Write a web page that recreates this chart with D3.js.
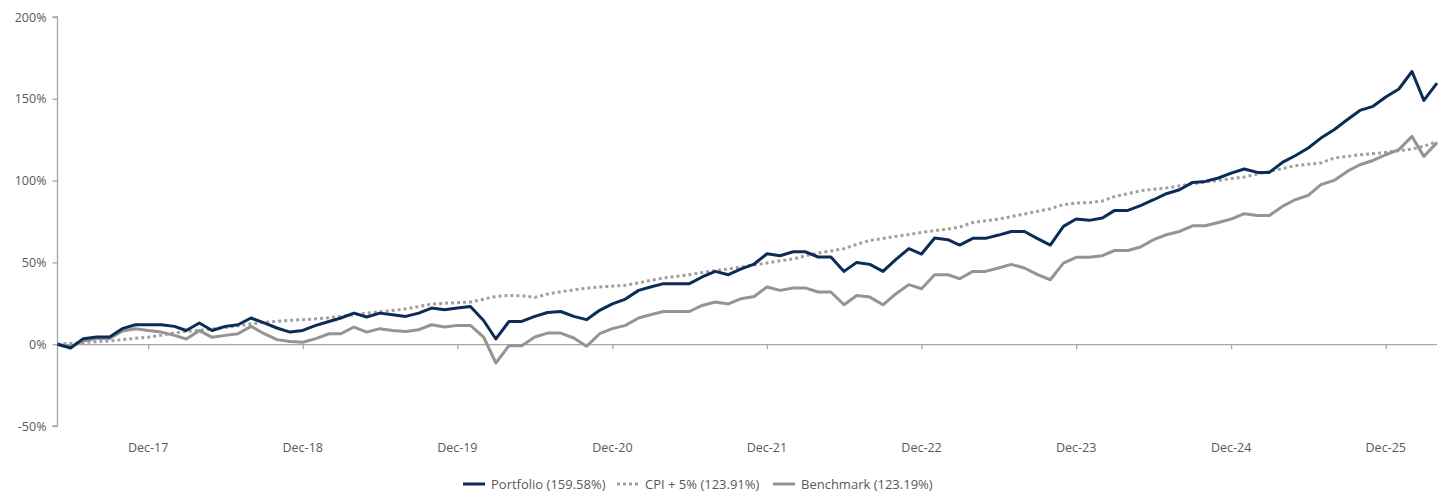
<!DOCTYPE html>
<html>
<head>
<meta charset="utf-8">
<script src="https://cdn.jsdelivr.net/npm/d3@7"></script>
<style>
  body { margin: 0; background: #fff; }
  svg text { font-family: "Open Sans", sans-serif; font-size: 12px; fill: #595959; }
</style>
</head>
<body>
<div id="chart"></div>
<script>
// monthly points, first one is May-17 (base = 0%)
const startMonth = new Date(2017, 4, 1);
const tickLabels = ["Dec-17", "Dec-18", "Dec-19", "Dec-20", "Dec-21", "Dec-22", "Dec-23", "Dec-24", "Dec-25"];
const yTicks = [-50, 0, 50, 100, 150, 200];

const portfolio = [
    0, -2.3, 3.4, 4.4, 4.4, 9.5, 11.9, 11.9, 11.9, 10.9,
    8.4, 13, 8.4, 10.9, 11.9, 16, 13, 9.9, 7.4, 8.4,
    11.5, 13.9, 16, 19, 16.6, 19, 18, 17, 19, 22.1,
    21.1, 22.1, 23.1, 14.5, 3.2, 13.9, 13.9, 17, 19.4, 20,
    17, 15, 20.7, 24.6, 27.6, 32.9, 35, 37, 37, 37,
    41.1, 44.5, 42.5, 46, 49, 55.3, 54.1, 56.5, 56.5, 53.3,
    53.3, 44.5, 50, 48.8, 44.5, 51.7, 58.4, 55.1, 64.9, 63.9,
    60.6, 64.7, 64.7, 66.7, 68.9, 68.9, 64.5, 60.6, 72, 76.5,
    75.7, 77.1, 81.8, 81.8, 84.7, 88.3, 92, 94.4, 98.9, 99.5,
    101.6, 104.6, 107.1, 105, 105, 111.1, 115.2, 119.9, 126, 131.1,
    137.2, 142.9, 145.4, 151.1, 156, 166.7, 149, 159.58
];

const cpi = [
    0, 0.5, 1, 1.5, 2, 2.8, 3.6, 4.3, 5.5, 7,
    7.8, 8.5, 9.3, 10.2, 11.2, 12.5, 13.3, 14, 14.6, 15,
    15.5, 16.2, 17, 18, 19, 19.8, 20.6, 21.6, 23, 24.5,
    25, 25.4, 25.8, 27.5, 29.2, 29.8, 29.6, 28.6, 30.7, 32,
    33.3, 34.2, 35, 35.5, 36, 37.5, 39, 40.5, 41.5, 42.5,
    43.8, 45, 46, 47.2, 48.5, 49.6, 51, 52.1, 54, 55.7,
    57, 58.4, 61, 63.4, 64.6, 65.9, 67, 68.3, 69.4, 70.4,
    71.6, 74.4, 75.4, 76.5, 78, 79.6, 81.2, 82.8, 85.3, 86.3,
    86.5, 87.5, 90.3, 92, 93.8, 94.7, 95.5, 96.8, 98.1, 99.1,
    100.1, 101.2, 102.2, 104, 105.6, 107.3, 109.1, 110, 110.8, 113.8,
    114.8, 115.8, 116.5, 117.2, 118.3, 119.3, 121, 123.91
];

const benchmark = [
    0, -1.5, 2, 3.5, 3.5, 8, 9.5, 8.4, 7.4, 5.4,
    3.2, 8.3, 4.2, 5.4, 6.4, 10.9, 6.4, 2.8, 1.7, 1.2,
    3.4, 6.4, 6.4, 10.5, 7.4, 9.5, 8.4, 7.8, 8.9, 11.9,
    10.5, 11.5, 11.5, 4.4, -11.5, -0.9, -0.9, 4.4, 6.8, 6.8,
    3.8, -1.3, 6.4, 9.5, 11.5, 16, 18, 20, 20, 20,
    23.7, 25.8, 24.6, 27.8, 29.2, 35, 32.9, 34.4, 34.4, 31.9,
    31.9, 24.1, 29.8, 28.8, 24.1, 30.7, 36.4, 33.9, 42.5, 42.5,
    40, 44.5, 44.5, 46.6, 48.8, 46.6, 42.5, 39.4, 49.6, 53.1,
    53.1, 54.1, 57.3, 57.3, 59.4, 63.9, 66.9, 68.9, 72.4, 72.4,
    74.4, 76.5, 79.8, 78.7, 78.7, 84.2, 88.3, 91, 97.5, 100.1,
    105.6, 109.7, 112.3, 115.8, 118.9, 127, 114.8, 123.19
];

const seriesNames = ["Portfolio (159.58%)", "CPI + 5% (123.91%)", "Benchmark (123.19%)"];

const months = portfolio.map((d, i) => d3.timeMonth.offset(startMonth, i));

const width = 1447, height = 494;
const margin = { left: 57.5, right: 10, top: 17, bottom: 68 };

const svg = d3.select("#chart").append("svg")
    .attr("width", width)
    .attr("height", height);

const x = d3.scaleTime()
    .domain([months[0], months[months.length - 1]])
    .range([margin.left, width - margin.right]);

const y = d3.scaleLinear()
    .domain([-50, 200])
    .range([height - margin.bottom, margin.top]);

// y axis
const yAxis = svg.append("g")
    .attr("transform", `translate(${margin.left},0)`)
    .call(d3.axisLeft(y).tickValues(yTicks).tickSize(5).tickPadding(6).tickFormat(d => d + "%"));
yAxis.selectAll("path, line").attr("stroke", "#a6a6a6").attr("stroke-width", 1.3);
yAxis.select(".domain").attr("d", `M-5,${y(200)}H0V${y(-50)}H-5`);
yAxis.selectAll("text").style("font-size", "12.5px");

// x axis sits on the 0% line, labels at the bottom
const decTicks = tickLabels.map((t, i) => new Date(2017 + i, 11, 1));
const xAxis = svg.append("g")
    .attr("transform", `translate(0,${y(0)})`)
    .call(d3.axisBottom(x).tickValues(decTicks).tickSize(5).tickFormat(""));
xAxis.selectAll("path, line").attr("stroke", "#a6a6a6").attr("stroke-width", 1.3);
xAxis.select(".domain").attr("d", `M${margin.left},0.5H${width - margin.right}`);

svg.append("g").selectAll("text")
    .data(decTicks)
    .enter().append("text")
    .attr("x", d => x(d))
    .attr("y", 452)
    .attr("text-anchor", "middle")
    .style("font-size", "12.5px")
    .text((d, i) => tickLabels[i]);

// lines
const line = d3.line()
    .x((d, i) => x(months[i]))
    .y(d => y(d));

svg.append("path")
    .datum(cpi)
    .attr("fill", "none")
    .attr("stroke", "#a0a0a0")
    .attr("stroke-width", 3)
    .attr("stroke-dasharray", "3,3")
    .attr("d", line);

svg.append("path")
    .datum(benchmark)
    .attr("fill", "none")
    .attr("stroke", "#949494")
    .attr("stroke-width", 3)
    .attr("stroke-linejoin", "round")
    .attr("d", line);

svg.append("path")
    .datum(portfolio)
    .attr("fill", "none")
    .attr("stroke", "#0b2c57")
    .attr("stroke-width", 3)
    .attr("stroke-linejoin", "round")
    .attr("d", line);

// legend
const legend = [
    { name: seriesNames[0], color: "#0b2c57", dash: null, x: 463 },
    { name: seriesNames[1], color: "#a0a0a0", dash: "3,3", x: 617 },
    { name: seriesNames[2], color: "#949494", dash: null, x: 773 }
];
const lg = svg.append("g");
legend.forEach(l => {
    lg.append("line")
        .attr("x1", l.x).attr("x2", l.x + 22)
        .attr("y1", 484).attr("y2", 484)
        .attr("stroke", l.color)
        .attr("stroke-width", 3)
        .attr("stroke-dasharray", l.dash);
    lg.append("text")
        .attr("x", l.x + 28)
        .attr("y", 488.5)
        .style("font-size", "13px")
        .text(l.name);
});
</script>
</body>
</html>
